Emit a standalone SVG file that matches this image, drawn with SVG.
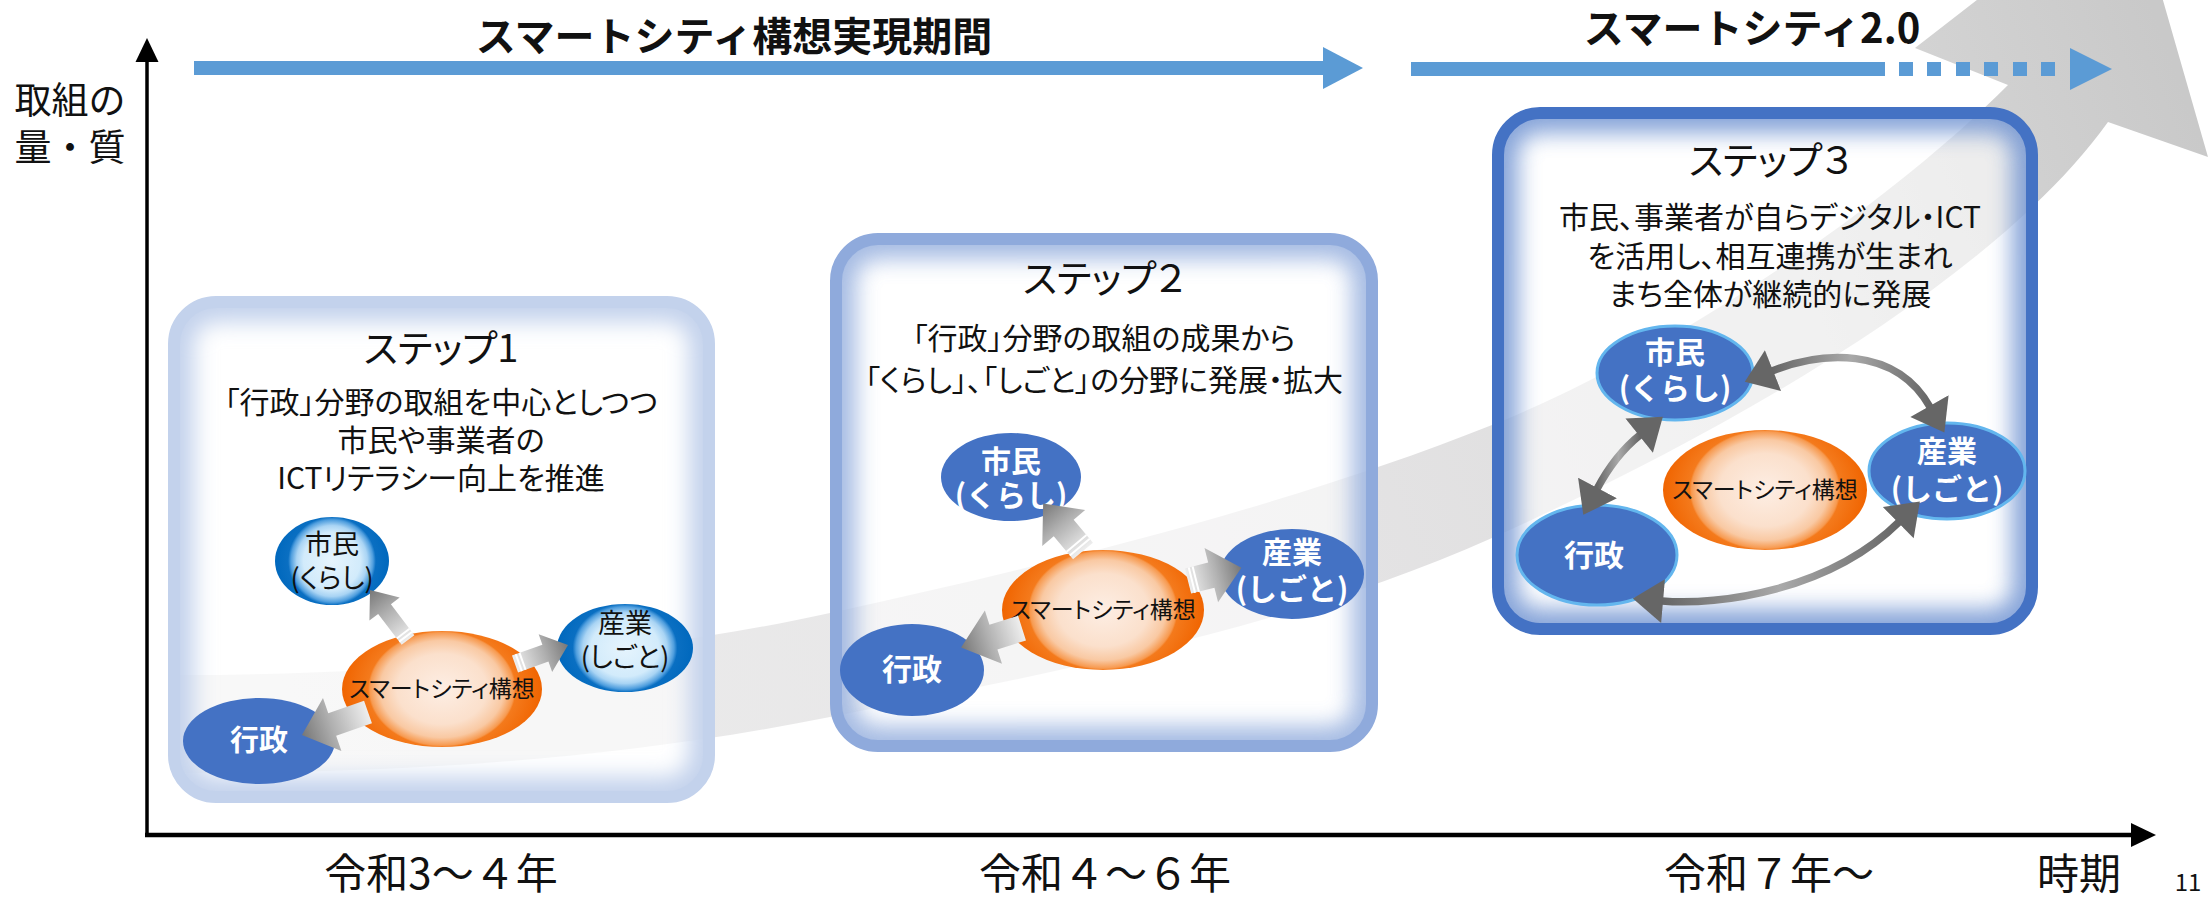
<svg xmlns="http://www.w3.org/2000/svg" width="2210" height="897" viewBox="0 0 2210 897">
<style>
.jp{font-family:"Noto Sans CJK JP","Noto Sans CJK SC",sans-serif;}
.palt{font-feature-settings:"palt" 1;}
.b{font-weight:bold;}
.w{fill:#ffffff;}
.k{fill:#111111;}
.mid{text-anchor:middle;}
.blue{fill:#5b9bd5;}
.node3{fill:#4472c4;stroke:#63b6ee;stroke-width:3;}
.node2{fill:#4472c4;}
.curve{fill:none;stroke:url(#cg);stroke-width:7.5;marker-start:url(#ch);marker-end:url(#ch);}
.hatch{stroke:#ffffff;stroke-width:2;}
</style>
<defs>
<linearGradient id="band" gradientUnits="userSpaceOnUse" x1="180" y1="720" x2="2150" y2="0">
<stop offset="0" stop-color="#eeeeee"/>
<stop offset="0.55" stop-color="#e4e3e4"/>
<stop offset="0.8" stop-color="#dbdbdb"/>
<stop offset="1" stop-color="#c9c9c9"/>
</linearGradient>
<radialGradient id="org" cx="0.5" cy="0.5" r="0.5" gradientTransform="translate(0.5,0.5) scale(1,1.35) translate(-0.5,-0.5)">
<stop offset="0" stop-color="#fdeee4"/>
<stop offset="0.45" stop-color="#fbe0cc"/>
<stop offset="0.62" stop-color="#f9c9a3"/>
<stop offset="0.72" stop-color="#f79a50"/>
<stop offset="0.74" stop-color="#f47a1c"/>
<stop offset="1" stop-color="#f06400"/>
</radialGradient>
<radialGradient id="blu" cx="0.5" cy="0.5" r="0.5" gradientTransform="translate(0.5,0.5) scale(1,1.3) translate(-0.5,-0.5)">
<stop offset="0" stop-color="#e6f4fd"/>
<stop offset="0.5" stop-color="#d2ebfb"/>
<stop offset="0.62" stop-color="#a9d4f4"/>
<stop offset="0.72" stop-color="#4f9ede"/>
<stop offset="0.77" stop-color="#0a6fc2"/>
<stop offset="1" stop-color="#0068bd"/>
</radialGradient>
<linearGradient id="ag" x1="0" y1="0" x2="1" y2="0">
<stop offset="0" stop-color="#eeeeee"/>
<stop offset="0.55" stop-color="#b0b0b0"/>
<stop offset="1" stop-color="#777777"/>
</linearGradient>
<linearGradient id="cg" x1="0" y1="0" x2="1" y2="0">
<stop offset="0" stop-color="#666666"/>
<stop offset="0.5" stop-color="#a9a9a9"/>
<stop offset="1" stop-color="#666666"/>
</linearGradient>
<marker id="ch" markerUnits="userSpaceOnUse" markerWidth="32" markerHeight="46" viewBox="0 -22 30 44" refX="1" refY="0" orient="auto-start-reverse">
<path d="M0,-21 L29,0 L0,21 Z" fill="#666666"/>
</marker>
<filter id="soft" x="-10%" y="-10%" width="120%" height="120%">
<feGaussianBlur stdDeviation="11"/>
</filter>
<clipPath id="c1"><rect x="174" y="302" width="535" height="495" rx="42"/></clipPath>
<clipPath id="c2"><rect x="836" y="239" width="536" height="507" rx="42"/></clipPath>
<clipPath id="c3"><rect x="1498" y="113" width="534" height="516" rx="42"/></clipPath>
</defs>

<rect width="2210" height="897" fill="#ffffff"/>

<g id="trend-arrow">
<path d="M180,675 C400,675 650,653 830,613 C1050,565 1292,505 1492,425 C1662,357 1878,215 2008,85 L1915,48 L2129,-118 L2208,157 L2108,122 C1988,290 1692,448 1492,538 C1292,628 1050,673 830,717 C610,761 400,773 180,773 Z" fill="url(#band)"/>
</g>

<g id="axes">
<line x1="147" y1="837" x2="147" y2="58" stroke="#000" stroke-width="3.5"/>
<polygon points="135.5,62 147,38 158.5,62" fill="#000"/>
<line x1="145" y1="835" x2="2133" y2="835" stroke="#000" stroke-width="4.5"/>
<polygon points="2131,823 2156,835 2131,847" fill="#000"/>
<text x="70" y="114" class="jp mid k" font-size="37">取組の</text>
<text x="70" y="161" class="jp mid k" font-size="37">量・質</text>
<text x="441" y="889" class="jp mid k" font-size="42">令和3～４年</text>
<text x="1105" y="889" class="jp mid k" font-size="42">令和４～６年</text>
<text x="1769" y="889" class="jp mid k" font-size="42">令和７年～</text>
<text x="2079" y="889" class="jp mid k" font-size="42">時期</text>
<text x="2188" y="891" class="jp mid k" font-size="24">11</text>
</g>

<g id="periods">
<rect x="194" y="61" width="1130" height="14" class="blue"/>
<polygon points="1323,47 1363,68 1323,89" class="blue"/>
<text x="734" y="51" class="jp b mid k" font-size="40">スマートシティ構想実現期間</text>
<rect x="1411" y="62" width="474" height="14" class="blue"/>
<rect x="1899" y="62" width="14" height="14" class="blue"/>
<rect x="1927" y="62" width="14" height="14" class="blue"/>
<rect x="1956" y="62" width="14" height="14" class="blue"/>
<rect x="1984" y="62" width="14" height="14" class="blue"/>
<rect x="2013" y="62" width="14" height="14" class="blue"/>
<rect x="2041" y="62" width="14" height="14" class="blue"/>
<polygon points="2070,48 2112,69 2070,90" class="blue"/>
<text x="1752" y="43" class="jp b mid k" font-size="40">スマートシティ2.0</text>
</g>

<g id="step1">
<rect x="174" y="302" width="535" height="495" rx="42" fill="#ffffff" fill-opacity="0.6"/>
<rect x="174" y="302" width="535" height="495" rx="42" fill="none" stroke="#c3d2ec" stroke-width="40" filter="url(#soft)" clip-path="url(#c1)"/>
<rect x="174" y="302" width="535" height="495" rx="42" fill="none" stroke="#c3d2ec" stroke-width="12"/>
<text x="441" y="362" class="jp palt mid k" font-size="38">ステップ1</text>
<text x="441" y="413" class="jp palt mid k" font-size="30">「行政」分野の取組を中心としつつ</text>
<text x="441" y="451" class="jp palt mid k" font-size="30">市民や事業者の</text>
<text x="441" y="489" class="jp palt mid k" font-size="30">ICTリテラシー向上を推進</text>
</g>
<g id="s1-shimin">
<ellipse cx="332" cy="561" rx="57" ry="44" fill="url(#blu)"/>
<text x="332" y="554" class="jp palt mid k" font-size="27">市民</text>
<text x="332" y="588" class="jp palt mid k" font-size="27">(くらし)</text>
</g>
<g id="s1-sangyo">
<ellipse cx="625" cy="648" rx="68" ry="44" fill="url(#blu)"/>
<text x="625" y="633" class="jp palt mid k" font-size="27">産業</text>
<text x="625" y="667" class="jp palt mid k" font-size="27">(しごと)</text>
</g>
<g id="s1-center">
<ellipse cx="442" cy="689" rx="100" ry="58" fill="url(#org)"/>
<text x="442" y="697" class="jp palt mid k" font-size="23">スマートシティ構想</text>
</g>
<g id="s1-gyosei">
<ellipse cx="259" cy="741" rx="76" ry="43" class="node2"/>
<text x="259" y="751" class="jp b mid w" font-size="29">行政</text>
</g>

<g id="step2">
<rect x="836" y="239" width="536" height="507" rx="42" fill="#ffffff" fill-opacity="0.6"/>
<rect x="836" y="239" width="536" height="507" rx="42" fill="none" stroke="#8faadc" stroke-width="40" filter="url(#soft)" clip-path="url(#c2)" opacity="0.8"/>
<rect x="836" y="239" width="536" height="507" rx="42" fill="none" stroke="#8faadc" stroke-width="12"/>
<text x="1104" y="292" class="jp palt mid k" font-size="38">ステップ２</text>
<text x="1104" y="349" class="jp palt mid k" font-size="30">「行政」分野の取組の成果から</text>
<text x="1104" y="391" class="jp palt mid k" font-size="30">「くらし」、「しごと」の分野に発展・拡大</text>
</g>
<g id="s2-shimin">
<ellipse cx="1011" cy="477" rx="70" ry="44" class="node2"/>
<text x="1011" y="472" class="jp b mid w" font-size="30">市民</text>
<text x="1011" y="506" class="jp b mid w" font-size="30">(くらし)</text>
</g>
<g id="s2-sangyo">
<ellipse cx="1292" cy="574" rx="72" ry="45" class="node2"/>
<text x="1292" y="563" class="jp b mid w" font-size="30">産業</text>
<text x="1292" y="600" class="jp b mid w" font-size="30">(しごと)</text>
</g>
<g id="s2-center">
<ellipse cx="1103" cy="610" rx="101" ry="60" fill="url(#org)"/>
<text x="1103" y="618" class="jp palt mid k" font-size="23">スマートシティ構想</text>
</g>
<g id="s2-gyosei">
<ellipse cx="912" cy="670" rx="72" ry="46" class="node2"/>
<text x="912" y="680" class="jp b mid w" font-size="30">行政</text>
</g>

<g id="step3">
<rect x="1498" y="113" width="534" height="516" rx="42" fill="#ffffff" fill-opacity="0.6"/>
<rect x="1498" y="113" width="534" height="516" rx="42" fill="none" stroke="#5f86cc" stroke-width="40" filter="url(#soft)" clip-path="url(#c3)" opacity="0.75"/>
<rect x="1498" y="113" width="534" height="516" rx="42" fill="none" stroke="#4472c4" stroke-width="12"/>
<text x="1770" y="174" class="jp palt mid k" font-size="38">ステップ３</text>
<text x="1770" y="228" class="jp palt mid k" font-size="30">市民、事業者が自らデジタル・ICT</text>
<text x="1770" y="267" class="jp palt mid k" font-size="30">を活用し、相互連携が生まれ</text>
<text x="1770" y="305" class="jp palt mid k" font-size="30">まち全体が継続的に発展</text>
</g>
<g id="s3-shimin">
<ellipse cx="1675" cy="373" rx="78" ry="47" class="node3"/>
<text x="1675" y="363" class="jp b mid w" font-size="30">市民</text>
<text x="1675" y="399" class="jp b mid w" font-size="30">(くらし)</text>
</g>
<g id="s3-sangyo">
<ellipse cx="1947" cy="471" rx="78" ry="48" class="node3"/>
<text x="1947" y="462" class="jp b mid w" font-size="30">産業</text>
<text x="1947" y="500" class="jp b mid w" font-size="30">(しごと)</text>
</g>
<g id="s3-center">
<ellipse cx="1765" cy="490" rx="102" ry="60" fill="url(#org)"/>
<text x="1765" y="498" class="jp palt mid k" font-size="23">スマートシティ構想</text>
</g>
<g id="s3-gyosei">
<ellipse cx="1597" cy="555" rx="80" ry="50" class="node3"/>
<text x="1594" y="566" class="jp b mid w" font-size="30">行政</text>
</g>

<g id="connectors">
<g transform="translate(408,640) rotate(-127.2)">
<polygon points="0,-8 38.8,-8 38.8,-19 62.8,0 38.8,19 38.8,8 0,8" fill="url(#ag)"/>
<line x1="4" y1="-8" x2="4" y2="8" class="hatch"/><line x1="8" y1="-8" x2="8" y2="8" class="hatch"/>
</g>
<g transform="translate(515,664) rotate(-19.7)">
<polygon points="0,-9 32.3,-9 32.3,-20 56.3,0 32.3,20 32.3,9 0,9" fill="url(#ag)"/>
<line x1="4" y1="-9" x2="4" y2="9" class="hatch"/><line x1="8" y1="-9" x2="8" y2="9" class="hatch"/>
</g>
<g transform="translate(368,712) rotate(160.8)">
<polygon points="0,-12 37.9,-12 37.9,-28 69.9,0 37.9,28 37.9,12 0,12" fill="url(#ag)"/>
</g>
<g transform="translate(1083,551) rotate(-130)">
<polygon points="0,-13 30,-13 30,-28 62,0 30,28 30,13 0,13" fill="url(#ag)"/>
<line x1="5" y1="-13" x2="5" y2="13" class="hatch"/><line x1="10" y1="-13" x2="10" y2="13" class="hatch"/>
</g>
<g transform="translate(1188,581) rotate(-14)">
<polygon points="0,-13 24,-13 24,-28 55,0 24,28 24,13 0,13" fill="url(#ag)"/>
<line x1="4" y1="-13" x2="4" y2="13" class="hatch"/><line x1="8" y1="-13" x2="8" y2="13" class="hatch"/>
</g>
<g transform="translate(1022,628) rotate(162.2)">
<polygon points="0,-13 30,-13 30,-28 64,0 30,28 30,13 0,13" fill="url(#ag)"/>
</g>
<path class="curve" d="M1772,371 C1820,352 1895,345 1930,407"/>
<path class="curve" d="M1640,435 Q1615,455 1597,489"/>
<path class="curve" d="M1662,601 C1720,606 1830,590 1899,522"/>
</g>
</svg>
